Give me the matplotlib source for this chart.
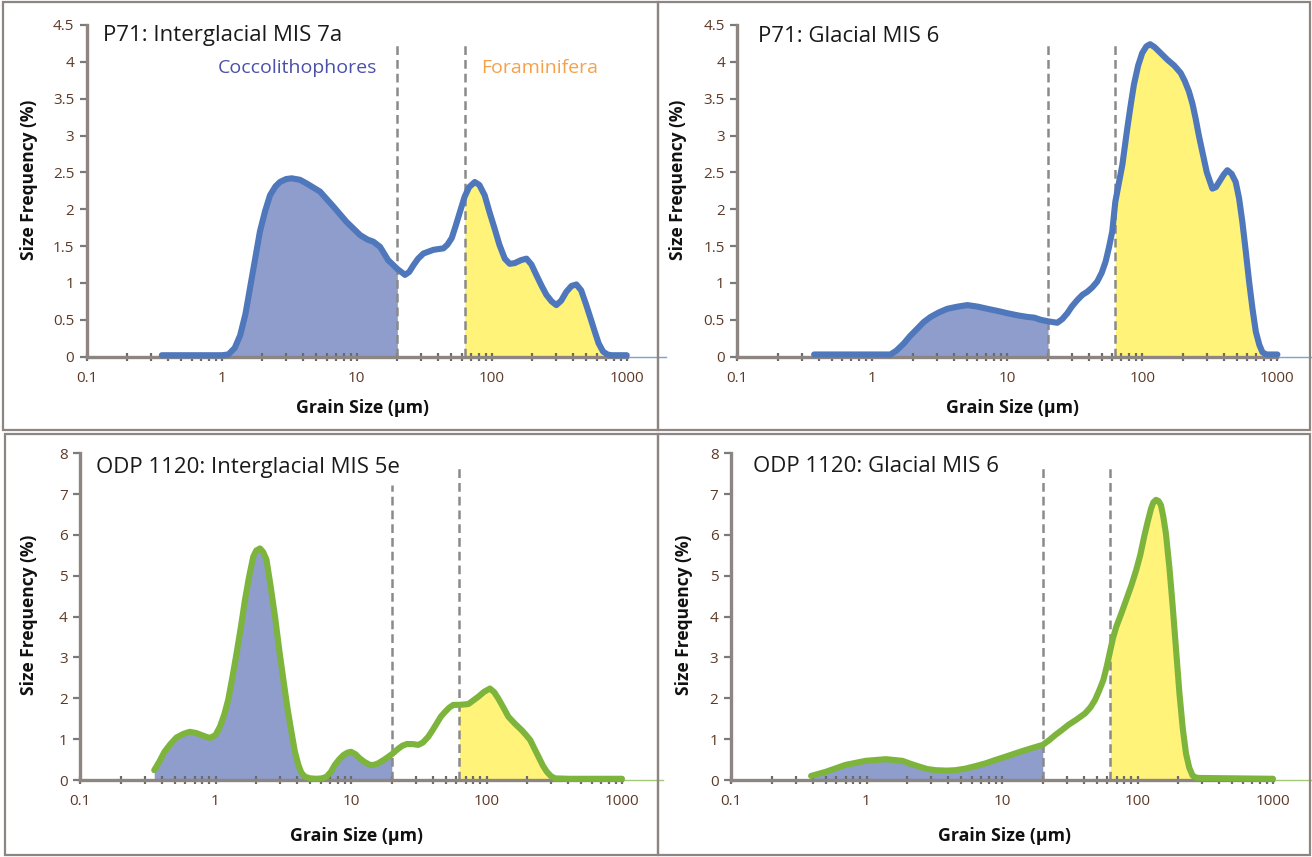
import numpy as np
import matplotlib.pyplot as plt
from matplotlib.patches import Rectangle

plt.rcParams['font.family'] = ['Open Sans', 'DejaVu Sans']

# grain size (um) vs size frequency (%)
p71_7a_size = [0.36, 0.5, 0.7, 1.0, 1.12, 1.25, 1.37, 1.5, 1.62, 1.77,
               1.92, 2.1, 2.28, 2.5, 2.7, 3.0, 3.3, 3.8, 4.26, 5.35,
               6.7, 8.4, 10.6, 12, 13.3, 14.9, 17.1, 20, 22.8, 24.5,
               26.3, 28.5, 31.2, 37, 43.9, 47, 50.6, 54, 58.3, 63,
               68, 74.9, 81, 88.7, 96, 105, 114, 125, 136, 148,
               165, 181, 197, 214, 233, 254, 278, 301, 327, 357,
               390, 424, 460, 502, 540, 580, 620, 668, 720, 770,
               1000]
p71_7a_freq = [0.02, 0.02, 0.02, 0.02, 0.03, 0.12, 0.29, 0.58, 0.93, 1.33,
               1.70, 1.98, 2.19, 2.31, 2.37, 2.41, 2.42, 2.40, 2.35, 2.24,
               2.04, 1.83, 1.65, 1.59, 1.56, 1.49, 1.31, 1.19, 1.11, 1.15,
               1.24, 1.33, 1.40, 1.45, 1.47, 1.52, 1.61, 1.77, 1.97, 2.17,
               2.30, 2.37, 2.33, 2.19, 1.97, 1.74, 1.52, 1.33, 1.26, 1.27,
               1.31, 1.33, 1.25, 1.11, 0.97, 0.84, 0.75, 0.70, 0.76, 0.88,
               0.96, 0.98, 0.90, 0.70, 0.52, 0.34, 0.18, 0.07, 0.03, 0.02,
               0.02]

p71_6_size = [0.37, 0.6, 1.0, 1.36, 1.5, 1.71, 1.9, 2.15, 2.4, 2.7,
              3.1, 3.59, 4.3, 5.05, 6, 7.1, 8.5, 10, 12, 14,
              15.8, 17.7, 20, 23.4, 25.5, 27.8, 30, 33, 36, 39,
              42.5, 46.3, 50, 53.4, 56.5, 59.8, 63, 67, 71, 77.3,
              82, 86.5, 93, 99.7, 107, 114, 123, 133, 153, 172,
              192, 206, 221, 235, 248, 262, 278, 300, 330, 350,
              370, 400, 426, 458, 491, 520, 550, 583, 617, 655,
              692, 735, 775, 830, 1000]
p71_6_freq = [0.03, 0.03, 0.03, 0.03, 0.08, 0.18, 0.28, 0.38, 0.47, 0.54,
              0.60, 0.65, 0.68, 0.70, 0.68, 0.65, 0.62, 0.59, 0.56, 0.54,
              0.53, 0.50, 0.48, 0.46, 0.51, 0.59, 0.68, 0.77, 0.84, 0.88,
              0.94, 1.02, 1.14, 1.29, 1.48, 1.70, 2.10, 2.36, 2.60, 3.10,
              3.42, 3.69, 3.95, 4.12, 4.21, 4.24, 4.20, 4.14, 4.03, 3.95,
              3.85, 3.74, 3.60, 3.43, 3.23, 3.00, 2.78, 2.50, 2.28, 2.30,
              2.37, 2.47, 2.53, 2.48, 2.37, 2.15, 1.83, 1.43, 1.02, 0.64,
              0.34, 0.16, 0.06, 0.03, 0.03]

odp_5e_size = [0.353, 0.385, 0.42, 0.465, 0.515, 0.58, 0.646, 0.72, 0.79, 0.85,
               0.91, 1.0, 1.08, 1.16, 1.24, 1.33, 1.43, 1.54, 1.65, 1.77,
               1.90, 2.0, 2.13, 2.25, 2.38, 2.55, 2.75, 2.95, 3.17, 3.4,
               3.65, 3.85, 4.09, 4.3, 4.57, 5.0, 5.57, 6.1, 6.6, 7.1,
               7.6, 8.2, 8.8, 9.4, 10, 10.8, 11.6, 12.6, 13.8, 14.8,
               15.9, 17.8, 20, 22.4, 24, 25.8, 28.5, 31.4, 34, 37.2,
               40, 43, 46, 49.5, 53, 57, 63, 73.5, 80, 87,
               96, 106, 114, 122, 133, 145, 162, 182, 196, 210,
               225, 242, 260, 279, 300, 321, 403, 1000]
odp_5e_freq = [0.24, 0.45, 0.69, 0.88, 1.04, 1.13, 1.18, 1.15, 1.10, 1.06,
               1.03, 1.10, 1.31, 1.60, 1.96, 2.50, 3.10, 3.75, 4.41, 4.98,
               5.47, 5.62, 5.67, 5.58, 5.39, 4.75, 4.00, 3.20, 2.45, 1.75,
               1.14, 0.70, 0.37, 0.18, 0.08, 0.04, 0.03, 0.04, 0.08, 0.20,
               0.37, 0.51, 0.61, 0.67, 0.69, 0.63, 0.53, 0.44, 0.37, 0.37,
               0.41, 0.51, 0.63, 0.77, 0.84, 0.88, 0.88, 0.86, 0.92, 1.06,
               1.22, 1.39, 1.55, 1.67, 1.77, 1.84, 1.84, 1.86, 1.95, 2.04,
               2.16, 2.24, 2.15, 2.00, 1.78, 1.55, 1.38, 1.22, 1.10, 0.98,
               0.78, 0.57, 0.36, 0.20, 0.09, 0.04, 0.03, 0.03]

odp_6_size = [0.39, 0.5, 0.7, 0.99, 1.39, 1.84, 2.1, 2.44, 2.8, 3.24,
              3.9, 4.54, 5.4, 6.37, 7.6, 8.93, 10.6, 12.5, 14.5, 16.6,
              18.2, 20, 22.2, 24.7, 27.6, 30.9, 35.5, 41, 45, 48.6,
              52, 56, 59.5, 63, 66, 69.7, 76, 82.5, 90, 97.8,
              105, 112, 119, 126, 131, 137, 143, 149, 155, 162,
              172, 182, 193, 204, 216, 228, 241, 255, 270, 286,
              1000]
odp_6_freq = [0.10, 0.20, 0.37, 0.47, 0.51, 0.47, 0.40, 0.33, 0.27, 0.24,
              0.23, 0.24, 0.28, 0.34, 0.41, 0.49, 0.57, 0.65, 0.72, 0.78,
              0.82, 0.86, 0.97, 1.10, 1.22, 1.35, 1.48, 1.63, 1.78, 1.96,
              2.18, 2.45, 2.80, 3.18, 3.48, 3.75, 4.08, 4.41, 4.76, 5.14,
              5.52, 5.96, 6.33, 6.65, 6.80, 6.86, 6.83, 6.73, 6.45, 6.04,
              5.20, 4.24, 3.15, 2.12, 1.25, 0.65, 0.30, 0.11, 0.06, 0.05,
              0.03]

# fraction boundaries (um) and how high their dashed lines reach
bounds = [20, 63]
dash_tops = {'p71_7a': [4.24, 4.24], 'p71_6': [4.25, 4.25],
             'odp_5e': [7.22, 7.64], 'odp_6': [7.64, 7.64]}

xtick_vals = [0.1, 1, 10, 100, 1000]
xtick_labels = ['0.1', '1', '10', '100', '1000']
p71_yticks = [0, 0.5, 1, 1.5, 2, 2.5, 3, 3.5, 4, 4.5]
p71_ylabels = ['0', '0.5', '1', '1.5', '2', '2.5', '3', '3.5', '4', '4.5']
odp_yticks = [0, 1, 2, 3, 4, 5, 6, 7, 8]

W, H = 1312, 857
fig = plt.figure(figsize=(W / 100, H / 100), dpi=100)

blue_fill = '#8e9dcc'
yellow_fill = '#fff37a'
blue_line = '#4f77bb'
green_line = '#7db43c'
tick_col = '#5e3a26'
frame_col = '#8c8581'


def px_axes(x0, x1, y0, y1):
    # x0/x1: pixel columns of 0.1 and 1000, y0/y1: pixel rows of bottom/top
    return fig.add_axes([x0 / W, 1 - y0 / H, (x1 - x0) / W, (y0 - y1) / H])


def panel(ax, size, freq, ymax, yticks, ylabels, line_col, tops, ext):
    size = np.array(size)
    freq = np.array(freq)
    left = size <= bounds[0]
    right = size >= bounds[1]
    ax.fill_between(size[left], freq[left], color=blue_fill, lw=0, zorder=1)
    ax.fill_between(size[right], freq[right], color=yellow_fill, lw=0, zorder=1)
    for b, t in zip(bounds, tops):
        ax.plot([b, b], [0, t], color='#8a8a8a', lw=1.8, ls=(0, (3.5, 2)), zorder=2)
    ax.plot(size, freq, color=line_col, lw=4.4, solid_capstyle='round',
            solid_joinstyle='round', zorder=4, clip_on=False)
    ax.axhline(0, xmin=1, xmax=ext, color=line_col, lw=1, alpha=0.7, clip_on=False)

    ax.set_xscale('log')
    ax.set_xlim(0.1, 1000)
    ax.set_ylim(0, ymax)
    for s in ['top', 'right']:
        ax.spines[s].set_visible(False)
    for s in ['left', 'bottom']:
        ax.spines[s].set_color(frame_col)
        ax.spines[s].set_linewidth(2.4)
    ax.set_xticks(xtick_vals)
    ax.set_xticklabels(xtick_labels)
    ax.set_xticks([m * d for d in [0.1, 1, 10, 100] for m in range(2, 10)], minor=True)
    ax.set_yticks(yticks)
    ax.set_yticklabels(ylabels)
    ax.tick_params(axis='x', which='both', direction='inout', length=6, width=1.6,
                   color='#6a6a6a', labelsize=11, labelcolor=tick_col, pad=7)
    ax.tick_params(axis='x', which='minor', labelbottom=False)
    ax.tick_params(axis='y', direction='out', length=5, width=1.6,
                   color='#7a7a7a', labelsize=11, labelcolor=tick_col, pad=4)
    ax.patch.set_alpha(0)


ax1 = px_axes(86.7, 626.7, 356.7, 25)
panel(ax1, p71_7a_size, p71_7a_freq, 4.5, p71_yticks, p71_ylabels, blue_line,
      dash_tops['p71_7a'], 1.072)
ax2 = px_axes(737.4, 1277.4, 356.7, 25)
panel(ax2, p71_6_size, p71_6_freq, 4.5, p71_yticks, p71_ylabels, blue_line,
      dash_tops['p71_6'], 1.07)
ax3 = px_axes(80, 622, 780, 453.3)
panel(ax3, odp_5e_size, odp_5e_freq, 8, odp_yticks, [str(v) for v in odp_yticks],
      green_line, dash_tops['odp_5e'], 1.075)
ax4 = px_axes(731, 1273, 780, 453.3)
panel(ax4, odp_6_size, odp_6_freq, 8, odp_yticks, [str(v) for v in odp_yticks],
      green_line, dash_tops['odp_6'], 1.07)

# panel frames
for (x0, y0, x1, y1) in [(3, 2, 658, 430), (658, 2, 1310, 430),
                         (5, 434, 658, 855), (658, 434, 1310, 855)]:
    fig.add_artist(Rectangle((x0 / W, 1 - y1 / H), (x1 - x0) / W, (y1 - y0) / H,
                             transform=fig.transFigure, fill=False,
                             edgecolor=frame_col, lw=1.6))


def ftext(x, y, s, **kw):
    fig.text(x / W, 1 - y / H, s, **kw)


titles = [(103, 36, 'P71: Interglacial MIS 7a'), (758, 36, 'P71: Glacial MIS 6'),
          (96, 467, 'ODP 1120: Interglacial MIS 5e'), (753, 467, 'ODP 1120: Glacial MIS 6')]
for x, y, s in titles:
    ftext(x, y, s, ha='left', va='center', fontsize=16, color='#1a1a1a')

ftext(297, 68, 'Coccolithophores', ha='center', va='center', fontsize=14, color='#4b50a8')
ftext(540, 68, 'Foraminifera', ha='center', va='center', fontsize=14, color='#f6a14a')

for x, y in [(29, 180), (678, 180), (29, 615), (684, 615)]:
    ftext(x, y, 'Size Frequency (%)', ha='center', va='center', rotation=90,
          fontsize=12.5, fontweight='bold', color='#111111')
for x, y in [(362, 408), (1012, 408), (356, 836), (1005, 836)]:
    ftext(x, y, 'Grain Size (\u00b5m)', ha='center', va='center',
          fontsize=12.8, fontweight='bold', color='#111111')

fig.savefig('out.png', dpi=100)
